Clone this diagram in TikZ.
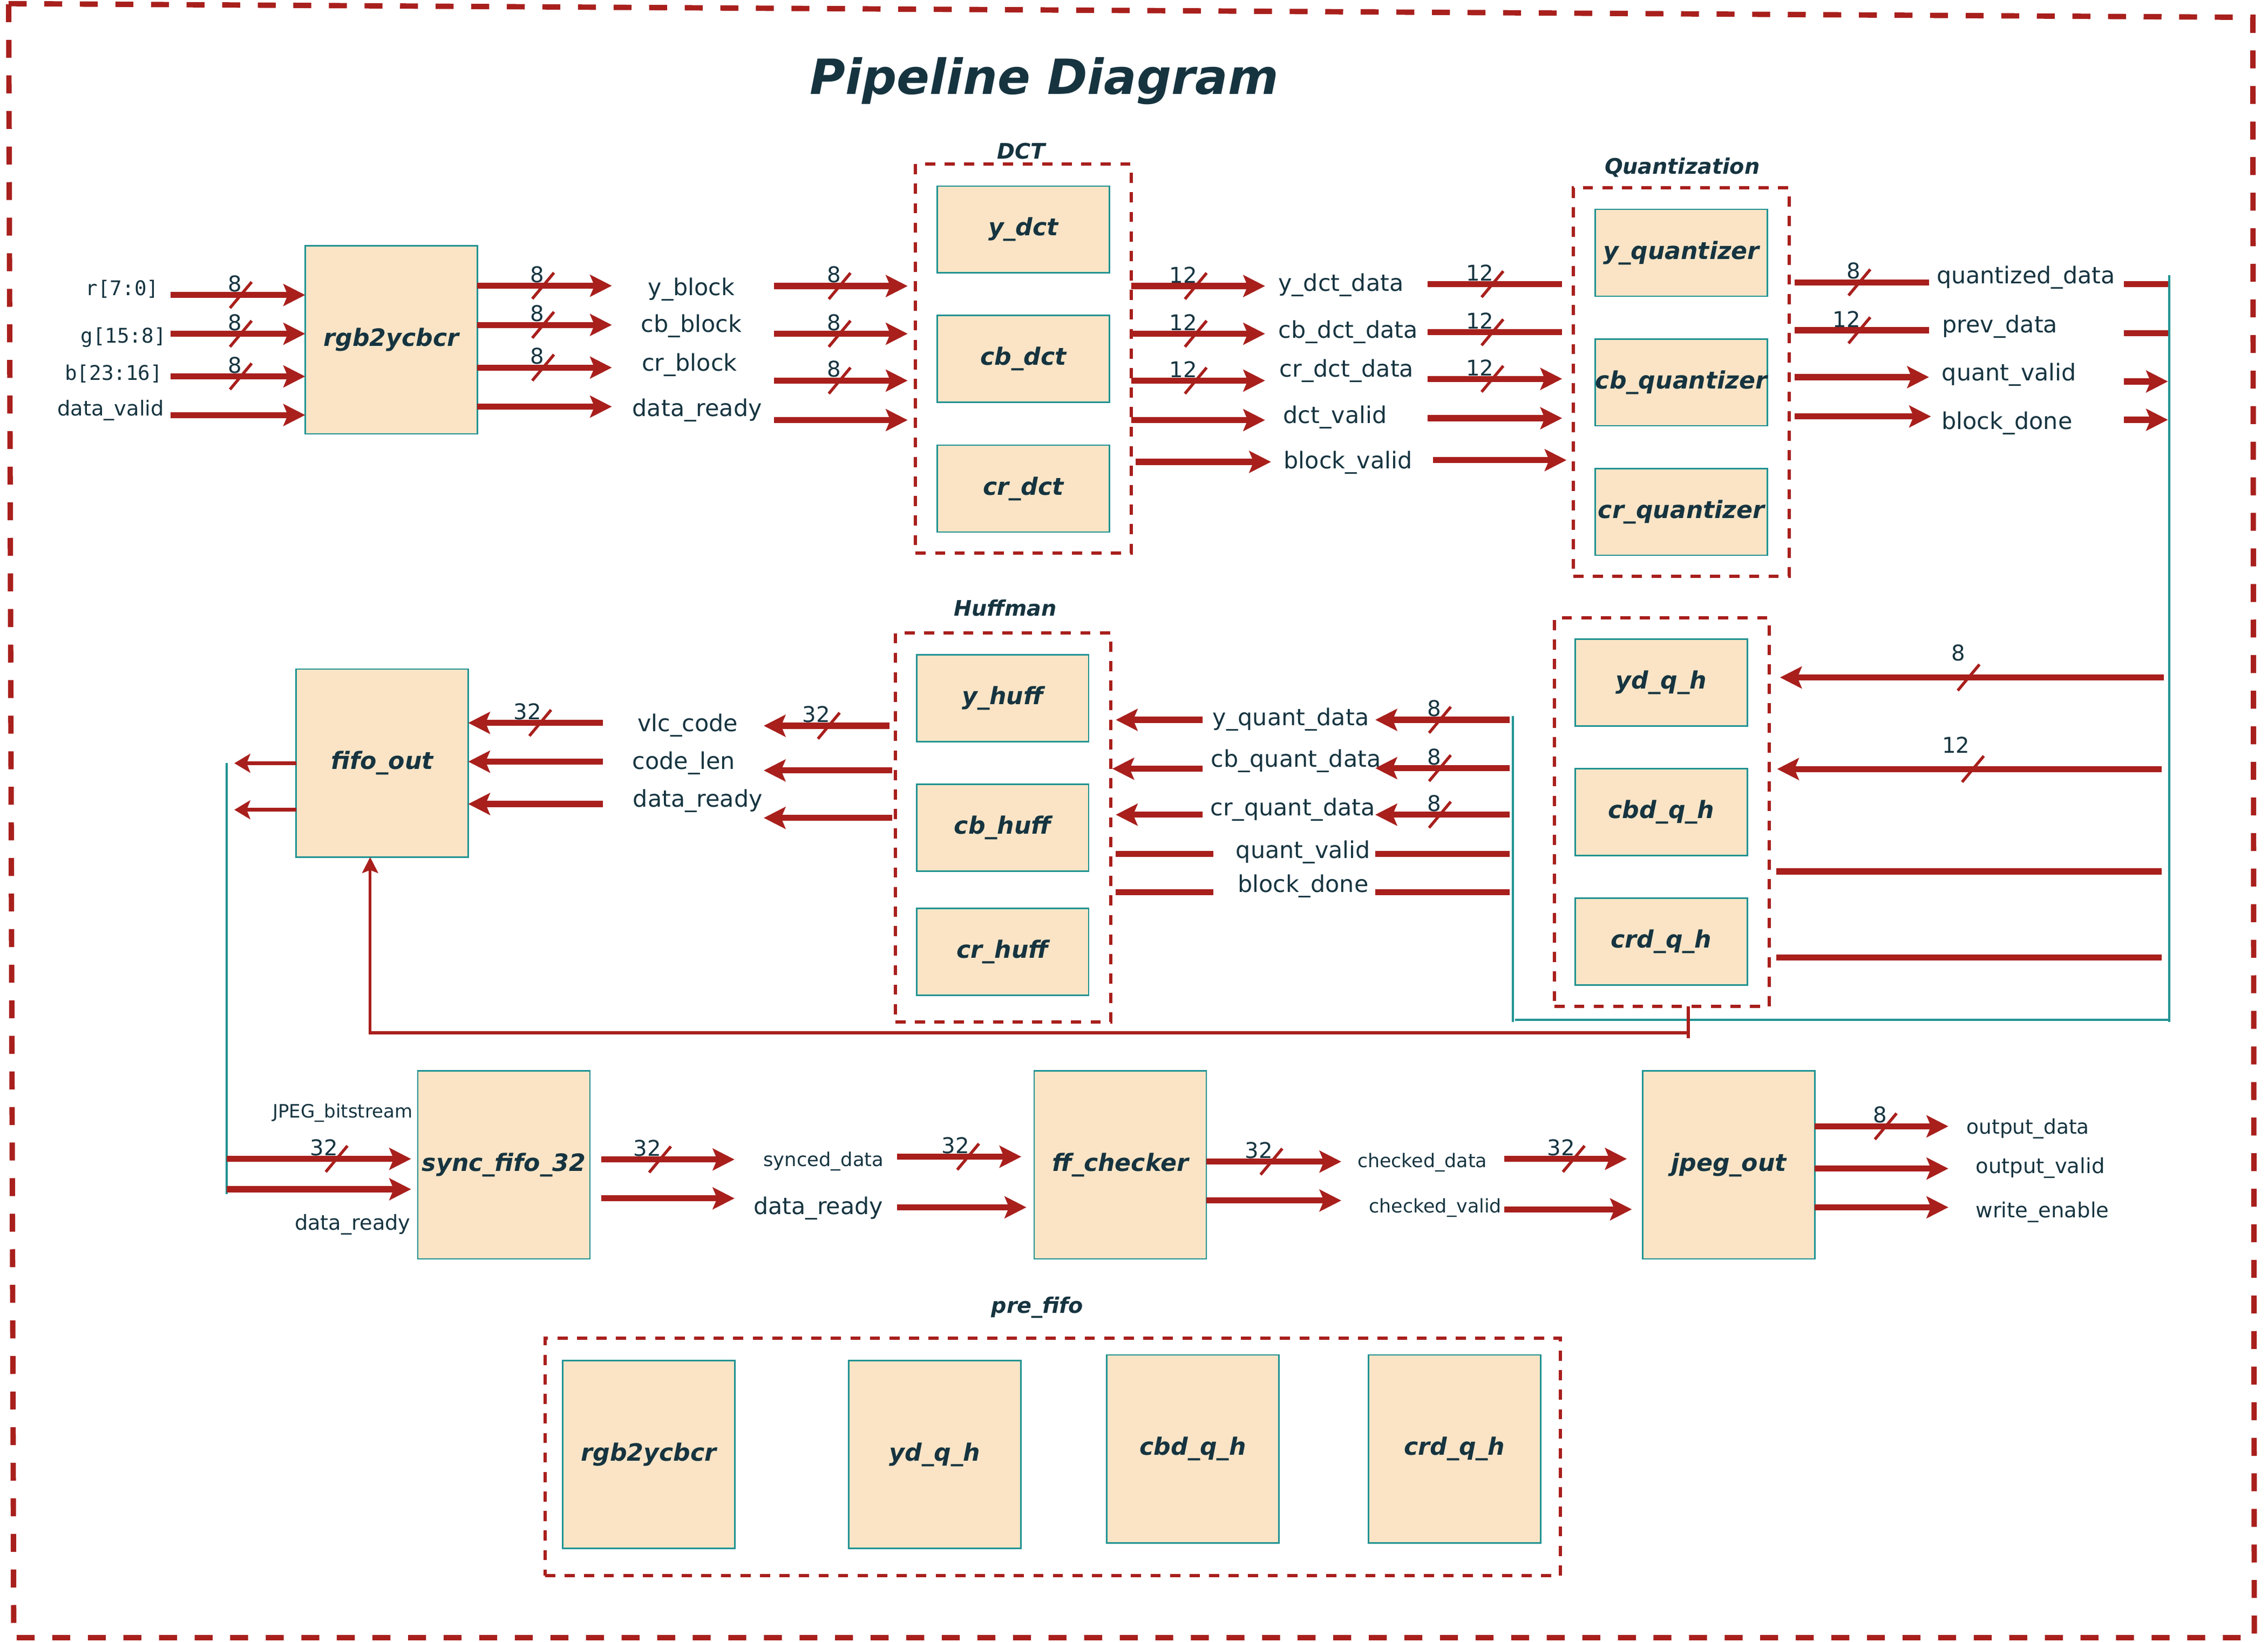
\documentclass[tikz,border=0pt]{standalone}
\usepackage{fontspec}
\setmainfont{DejaVu Sans}
\setmonofont{DejaVu Sans Mono}
\usetikzlibrary{arrows.meta}

\definecolor{wirered}{RGB}{168,31,28}
\definecolor{boxfill}{RGB}{250,228,197}
\definecolor{boxline}{RGB}{32,146,146}
\definecolor{inkblue}{RGB}{22,52,64}

\tikzset{
  blk/.style={draw=boxline, line width=1pt, fill=boxfill, inner sep=0pt, outer sep=0pt,
    minimum width=119pt, minimum height=130pt, text=inkblue,
    font=\fontsize{16.5}{20}\selectfont\bfseries\itshape},
  blkshort/.style={blk, minimum height=60pt},
  grp/.style={draw=wirered, line width=2.3pt, dash pattern=on 7pt off 6.5pt,
    inner sep=0pt, outer sep=0pt},
  grptitle/.style={text=inkblue, inner sep=0pt, font=\fontsize{14.8}{17}\selectfont\bfseries\itshape},
  sig/.style={text=inkblue, inner sep=0pt, font=\fontsize{16}{19}\selectfont},
  sigmid/.style={sig, font=\fontsize{14.4}{17}\selectfont},
  sigsmall/.style={sig, font=\fontsize{13}{16}\selectfont},
  pin/.style={sig, anchor=east, font=\fontsize{14}{17}\selectfont\ttfamily},
  wire/.style={draw=wirered, line width=4.2pt},
  arr/.style={wire, -{Stealth[length=15pt, width=15pt, inset=3pt]}},
  thinarr/.style={draw=wirered, line width=2.8pt, -{Stealth[length=11pt, width=13pt, inset=2.5pt]}},
  fb/.style={draw=wirered, line width=2pt},
  tealbus/.style={draw=boxline, line width=1.5pt},
  num/.style={text=inkblue, inner sep=0pt, anchor=south east, font=\fontsize{15}{18}\selectfont},
  pics/bw/.style={code={
    \draw[wirered, line width=2pt] (-7.5,9) -- (7.5,-9);
    \node[num] at (1,-2) {#1};}},
  pics/bwhigh/.style={code={
    \draw[wirered, line width=2pt] (-7.5,9) -- (7.5,-9);
    \node[num] at (-2,-11) {#1};}},
}

\begin{document}
\begin{tikzpicture}[x=1pt, y=-1pt]
\useasboundingbox (0,0) rectangle (1568,1135.2);
\draw[draw=wirered, line width=3.7pt, dash pattern=on 12.4pt off 12.2pt]
  (6,2.5) -- (1557.5,12) -- (1558.5,1132.5) -- (9.5,1132.5) -- cycle;
\node[text=inkblue, font=\fontsize{33.5}{40}\selectfont\bfseries\itshape] (title) at (722,56) {Pipeline Diagram};

% rgb2ycbcr stage
\node[blk] (rgb) at (270.5,235) {rgb2ycbcr};
\node[pin] (pr) at (110,199.9) {r[7:0]};
\node[pin] (pg) at (115,233.3) {g[15:8]};
\node[pin] (pb) at (112.5,258.6) {b[23:16]};
\node[sig, anchor=east, font=\fontsize{14.3}{17}\selectfont] (pdv) at (113.5,283.7) {data\_valid};
\coordinate (in0) at (117.8,0);
\foreach \y in {204,230.8,260.3,287}
  \draw[arr] (in0 |- 0,\y) -- (rgb.west |- 0,\y);
\foreach \y in {204,230.8,260.3}
  \pic at (166.5,\y) {bw=8};

\coordinate (c1) at (423,0);
\foreach \y in {197.6,224.7,254.2,281.2}
  \draw[arr] (rgb.east |- 0,\y) -- (c1 |- 0,\y);
\foreach \y in {197.6,224.7,254.2}
  \pic at (375.5,\y) {bw=8};
\node[sig] (yblk) at (478,200) {y\_block};
\node[sig] (cbblk) at (478,225.6) {cb\_block};
\node[sig] (crblk) at (476.6,252.3) {cr\_block};
\node[sig] (drdy1) at (482,283.7) {data\_ready};

% DCT
\node[grp, minimum width=149pt, minimum height=269pt] (dct) at (707.5,248) {};
\node[grptitle] (dcttitle) at (706,104.4) {DCT};
\node[blkshort] (ydct) at (707.5,158.7) {y\_dct};
\node[blkshort] (cbdct) at (707.5,248.2) {cb\_dct};
\node[blkshort] (crdct) at (707.5,337.9) {cr\_dct};
\coordinate (c2s) at (535,0);
\coordinate (c2e) at (627.5,0);
\foreach \y in {197.8,230.8,263.2,290.5}
  \draw[arr] (c2s |- 0,\y) -- (c2e |- 0,\y);
\foreach \y in {197.8,230.8,263.2}
  \pic at (580.5,\y) {bw=8};

\coordinate (c3) at (874.6,0);
\foreach \y in {197.8,230.8,263.2,290.5}
  \draw[arr] (dct.east |- 0,\y) -- (c3 |- 0,\y);
\draw[arr] (785,319.4) -- (878.7,319.4);
\foreach \y in {197.8,230.8,263.2}
  \pic at (826.7,\y) {bw=12};
\node[sig] (ydd) at (927,197) {y\_dct\_data};
\node[sig] (cbdd) at (932,229.5) {cb\_dct\_data};
\node[sig] (crdd) at (931,256.4) {cr\_dct\_data};
\node[sig] (dctv) at (923,288.7) {dct\_valid};
\node[sig] (blkv) at (932,320) {block\_valid};

% Quantization
\node[grp, minimum width=149.3pt, minimum height=268.5pt] (quant) at (1162.35,264.25) {};
\node[grptitle] (quanttitle) at (1163,115.8) {Quantization};
\node[blkshort] (yq) at (1162.4,174.8) {y\_quantizer};
\node[blkshort] (cbq) at (1162.4,264.4) {cb\_quantizer};
\node[blkshort] (crq) at (1162.4,354) {cr\_quantizer};
\coordinate (c4s) at (987,0);
\coordinate (c4e) at (1080,0);
\draw[wire] (c4s |- 0,196.5) -- (c4e |- 0,196.5);
\draw[wire] (c4s |- 0,229.8) -- (c4e |- 0,229.8);
\draw[arr] (c4s |- 0,262) -- (c4e |- 0,262);
\draw[arr] (c4s |- 0,289.2) -- (c4e |- 0,289.2);
\draw[arr] (990.6,318.2) -- (1083,318.2);
\foreach \y in {196.5,229.8,262}
  \pic at (1031.8,\y) {bw=12};

\coordinate (c5s) at (1240.7,0);
\coordinate (c5e) at (1333.6,0);
\draw[wire] (c5s |- 0,195.3) -- (c5e |- 0,195.3);
\draw[wire] (c5s |- 0,228.4) -- (c5e |- 0,228.4);
\draw[arr] (c5s |- 0,260.8) -- (c5e |- 0,260.8);
\draw[arr] (c5s |- 0,288) -- (1335,288);
\pic at (1285.5,195.3) {bw=8};
\pic at (1285.5,228.4) {bw=12};
\node[sig] (qd) at (1400.6,191.9) {quantized\_data};
\node[sig] (pd) at (1382.6,225.8) {prev\_data};
\node[sig] (qv) at (1389,258.9) {quant\_valid};
\node[sig] (bd) at (1387.5,292.8) {block\_done};

\coordinate (rbtop) at (1499.7,190.3);
\coordinate (rbbot) at (1499.7,706.7);
\coordinate (c6s) at (1468.5,0);
\draw[wire] (c6s |- 0,196.6) -- (rbtop |- 0,196.6);
\draw[wire] (c6s |- 0,230.3) -- (rbtop |- 0,230.3);
\draw[arr] (c6s |- 0,263.8) -- (1498.8,263.8);
\draw[arr] (c6s |- 0,290.3) -- (1498.8,290.3);
\draw[tealbus] (rbtop) -- (rbbot);

% quant hold registers
\node[grp, minimum width=148.4pt, minimum height=268.7pt] (hold) at (1149,561.65) {};
\node[blkshort] (ydqh) at (1148.5,472.1) {yd\_q\_h};
\node[blkshort] (cbdqh) at (1148.5,561.6) {cbd\_q\_h};
\node[blkshort] (crdqh) at (1148.5,651.1) {crd\_q\_h};
\draw[arr] (1496,468.5) -- (1230.6,468.5);
\draw[arr] (1494.4,531.8) -- (1228.6,531.8);
\draw[wire] (1494.4,602.6) -- (1228.2,602.6);
\draw[wire] (1494.4,662.2) -- (1228.2,662.2);
\pic at (1361,468.5) {bwhigh=8};
\pic at (1364,531.8) {bwhigh=12};
\coordinate (lbtop) at (1045.8,495);
\coordinate (lbbot) at (1045.8,706.7);
\draw[tealbus] (lbtop) -- (lbbot);
\draw[tealbus] (1047.3,705.1) -- (rbbot |- 0,705.1);

% back to Huffman
\coordinate (c7s) at (1043.8,0);
\coordinate (c7e) at (950.8,0);
\foreach \y in {497.8,531.2,563.4}
  \draw[arr] (c7s |- 0,\y) -- (c7e |- 0,\y);
\draw[wire] (c7s |- 0,590.4) -- (c7e |- 0,590.4);
\draw[wire] (c7s |- 0,617.1) -- (c7e |- 0,617.1);
\foreach \y in {497.8,531.2,563.4}
  \pic at (995.5,\y) {bw=8};
\node[sig] (yqd) at (892.4,497.4) {y\_quant\_data};
\node[sig] (cbqd) at (895.9,526.4) {cb\_quant\_data};
\node[sig] (crqd) at (893.8,560) {cr\_quant\_data};
\node[sig] (qv2) at (900.9,589.4) {quant\_valid};
\node[sig] (bd2) at (900.9,612.7) {block\_done};
\coordinate (c8e) at (771.4,0);
\draw[arr] (831.4,497.8) -- (c8e |- 0,497.8);
\draw[arr] (831.4,531.6) -- (769,531.6);
\draw[arr] (831.4,563.4) -- (c8e |- 0,563.4);
\draw[wire] (838.9,590.4) -- (c8e |- 0,590.4);
\draw[wire] (838.9,617.1) -- (c8e |- 0,617.1);

% Huffman
\node[grp, minimum width=149pt, minimum height=268.9pt] (huff) at (693.5,572.25) {};
\node[grptitle] (hufftitle) at (695,420.5) {Huffman};
\node[blkshort] (yhuff) at (693.2,482.9) {y\_huff};
\node[blkshort] (cbhuff) at (693.2,572.4) {cb\_huff};
\node[blkshort] (crhuff) at (693.2,658.2) {cr\_huff};
\coordinate (c9e) at (528,0);
\draw[arr] (615,501.9) -- (c9e |- 0,501.9);
\draw[arr] (617,532.8) -- (c9e |- 0,532.8);
\draw[arr] (617,565.6) -- (c9e |- 0,565.6);
\pic at (573,501.9) {bw=32};
\node[sig] (vlc) at (475.5,501.5) {vlc\_code};
\node[sig] (clen) at (472.7,527.8) {code\_len};
\node[sig] (drdy2) at (482.4,554) {data\_ready};

% fifo_out
\node[blk] (fifo) at (264.2,527.7) {fifo\_out};
\coordinate (c10s) at (416.9,0);
\foreach \y in {499.9,526.7,556}
  \draw[arr] (c10s |- 0,\y) -- (fifo.east |- 0,\y);
\pic at (373.5,499.9) {bw=32};
\draw[thinarr] (fifo.west |- 0,527.8) -- (162,527.8);
\draw[thinarr] (fifo.west |- 0,560) -- (162,560);
\coordinate (lltop) at (156.7,527.8);
\coordinate (llbot) at (156.7,825.8);
\draw[tealbus] (lltop) -- (llbot);
\draw[fb] (1167.2,696) -- (1167.2,717.8);
\draw[fb, -{Stealth[length=11pt, width=11pt, inset=2pt]}] (1167.2,714.2) -- (255.9,714.2) -- (fifo.south -| 255.9,0);

% output chain
\node[blk] (sync) at (348.3,805.6) {sync\_fifo\_32};
\node[blk] (ffc) at (774.5,805.6) {ff\_checker};
\node[blk] (jpeg) at (1195.2,805.6) {jpeg\_out};
\draw[arr] (lltop |- 0,801.4) -- (284.2,801.4);
\draw[arr] (lltop |- 0,822.4) -- (284.2,822.4);
\pic at (232.7,801.4) {bw=32};
\node[sig, anchor=east, font=\fontsize{12.7}{15}\selectfont] (jbs) at (285.4,769.6) {JPEG\_bitstream};
\node[sig, anchor=east, font=\fontsize{14.3}{17}\selectfont] (drdy3) at (284,846.8) {data\_ready};

\draw[arr] (415.7,801.8) -- (507.8,801.8);
\draw[arr] (415.7,828.7) -- (507.8,828.7);
\pic at (456.3,801.8) {bw=32};
\node[sig, font=\fontsize{13.2}{16}\selectfont] (synd) at (569.4,803) {synced\_data};
\node[sig] (drdy4) at (565.7,835.7) {data\_ready};
\draw[arr] (620.3,799.9) -- (706.1,799.9);
\draw[arr] (620.3,834.9) -- (709.6,834.9);
\pic at (669.3,799.9) {bw=32};

\draw[arr] (ffc.east |- 0,803.3) -- (927.3,803.3);
\draw[arr] (ffc.east |- 0,830.2) -- (927.3,830.2);
\pic at (879,803.3) {bw=32};
\node[sigsmall] (chkd) at (983.3,803.8) {checked\_data};
\node[sigsmall] (chkv) at (992.3,835.4) {checked\_valid};
\draw[arr] (1039.8,801.4) -- (1124.7,801.4);
\draw[arr] (1039.8,836.3) -- (1128.2,836.3);
\pic at (1088,801.4) {bw=32};

\coordinate (c11) at (1347,0);
\foreach \y in {778.9,808.1,834.9}
  \draw[arr] (jpeg.east |- 0,\y) -- (c11 |- 0,\y);
\pic at (1303.7,778.9) {bw=8};
\node[sigmid, font=\fontsize{14}{17}\selectfont] (outd) at (1402,780.5) {output\_data};
\node[sigmid] (outv) at (1410.5,807.7) {output\_valid};
\node[sigmid] (wen) at (1412,838.2) {write\_enable};

% pre_fifo
\node[grp, minimum width=701.9pt, minimum height=164.2pt] (pre) at (727.85,1007.5) {};
\node[grptitle] (pretitle) at (717.2,904) {pre\_fifo};
\node[blk] (prergb) at (448.5,1005.8) {rgb2ycbcr};
\node[blk] (preyd) at (646.2,1005.8) {yd\_q\_h};
\node[blk] (precbd) at (824.7,1002) {cbd\_q\_h};
\node[blk] (precrd) at (1005.6,1002) {crd\_q\_h};
\end{tikzpicture}
\end{document}
